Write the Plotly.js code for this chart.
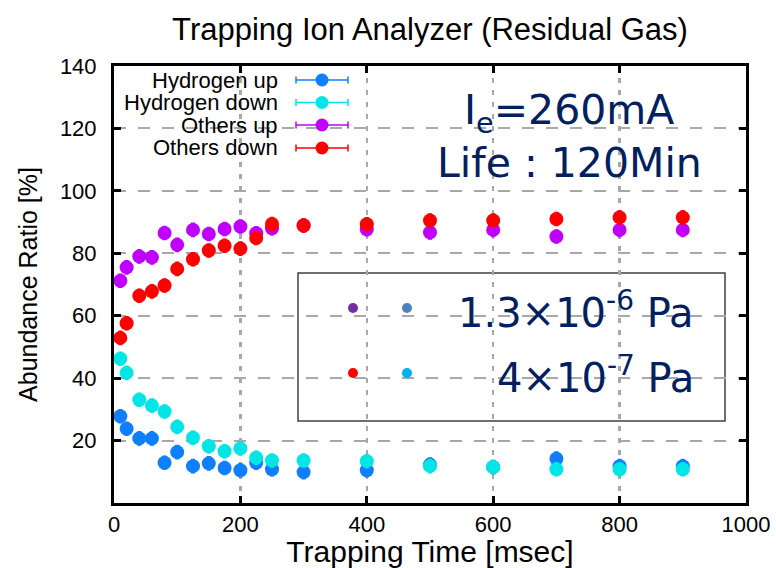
<!DOCTYPE html>
<html>
<head>
<meta charset="utf-8">
<script src="https://cdn.plot.ly/plotly-3.0.1.min.js"></script>
<style>
  html, body { margin: 0; padding: 0; background: #ffffff; }
  #chart { width: 776px; height: 568px; }
</style>
</head>
<body>
<div id="chart"></div>
<script>
// Trapping time [msec]
const timeMs = [10, 20, 40, 60, 80, 100, 125, 150, 175, 200, 225, 250, 300, 400, 500, 600, 700, 800, 900];

// Abundance ratio [%] per ion group and scan direction
const hydrogenUp   = [27.8, 23.8, 20.7, 20.7, 12.9, 16.3, 11.8, 12.7, 11.2, 10.5, 12.9, 10.8, 9.9, 10.5, 12.3, 11.5, 14.2, 11.8, 11.8];
const hydrogenDown = [46.2, 41.7, 33.1, 31.2, 29.3, 24.4, 20.9, 18.2, 16.6, 17.5, 14.5, 13.6, 13.6, 13.4, 11.8, 11.5, 10.8, 10.8, 10.8];
const othersUp     = [71.2, 75.5, 79.0, 78.7, 86.5, 82.7, 87.5, 86.2, 87.8, 88.6, 86.4, 88.0, 88.9, 87.7, 86.7, 87.5, 85.4, 87.5, 87.5];
const othersDown   = [52.9, 57.6, 66.4, 67.8, 69.7, 75.0, 78.1, 80.9, 82.4, 81.5, 84.9, 89.4, 88.9, 89.3, 90.5, 90.5, 91.0, 91.5, 91.5];

const seriesNames  = ['Hydrogen up', 'Hydrogen down', 'Others up', 'Others down'];
const seriesValues = [hydrogenUp, hydrogenDown, othersUp, othersDown];
const seriesColors = ['#0f7fff', '#00e6e6', '#bf00ff', '#ff0000'];

const xTicks = [0, 200, 400, 600, 800, 1000];
const yTicks = [20, 40, 60, 80, 100, 120, 140];

// Pressure key inside the lower box
const pressureLabels = ['1.3×10<sup>-6</sup> Pa', '4×10<sup>-7</sup> Pa'];
const pressureColors = [['#7030a0', '#4f81bd'], ['#ff0000', '#00b0f0']];

// Plot area in pixels
const W = 776, H = 568;
const plotL = 114, plotR = 746, plotT = 66, plotB = 503;
const px = (x) => (x - plotL) / (plotR - plotL);   // pixel -> paper x
const py = (y) => (plotB - y) / (plotB - plotT);   // pixel -> paper y

const traces = seriesValues.map((vals, i) => ({
  type: 'scatter',
  mode: 'markers',
  name: seriesNames[i],
  x: timeMs,
  y: vals,
  marker: { color: seriesColors[i], size: 14 },
  error_y: { type: 'constant', value: 2.1, color: seriesColors[i], thickness: 1.5, width: 2 },
  showlegend: false,
  cliponaxis: false
}));

const shapes = [];
const annotations = [];

// filled dot centred on a pixel position
function dot(cx, cy, r, color) {
  shapes.push({ type: 'circle', xref: 'paper', yref: 'paper', layer: 'above',
    x0: px(cx - r), x1: px(cx + r), y0: py(cy + r), y1: py(cy - r),
    fillcolor: color, line: { width: 0 } });
}

// White panels over the grid: series key, current/life note, pressure box
shapes.push({ type: 'rect', xref: 'paper', yref: 'paper', layer: 'between',
  x0: px(plotL), x1: px(358), y0: py(160), y1: py(plotT),
  fillcolor: '#ffffff', line: { width: 0 } });
shapes.push({ type: 'rect', xref: 'paper', yref: 'paper', layer: 'between',
  x0: px(413), x1: px(733), y0: py(204), y1: py(84),
  fillcolor: '#ffffff', line: { width: 0 } });
shapes.push({ type: 'rect', xref: 'paper', yref: 'paper', layer: 'between',
  x0: px(298), x1: px(725), y0: py(421), y1: py(273),
  fillcolor: '#ffffff', line: { color: '#404040', width: 1.5 } });

// Series key: right-aligned label, then an error-bar sample with a dot
const keyRows = [80, 102.5, 125, 148];
seriesNames.forEach((name, i) => {
  const yy = keyRows[i];
  annotations.push({ xref: 'paper', yref: 'paper', x: px(280), y: py(yy),
    xanchor: 'right', yanchor: 'middle', showarrow: false, text: name,
    font: { family: 'Liberation Sans, Arial, sans-serif', size: 22, color: '#000000' } });
  const c = seriesColors[i];
  shapes.push({ type: 'line', xref: 'paper', yref: 'paper', layer: 'above',
    x0: px(296), x1: px(348), y0: py(yy), y1: py(yy), line: { color: c, width: 1.5 } });
  [296, 348].forEach(cx => shapes.push({ type: 'line', xref: 'paper', yref: 'paper', layer: 'above',
    x0: px(cx), x1: px(cx), y0: py(yy - 3.5), y1: py(yy + 3.5), line: { color: c, width: 1.5 } }));
  dot(322, yy, 6.5, c);
});

// Beam current and lifetime note
annotations.push({ xref: 'paper', yref: 'paper', x: px(569), y: py(113),
  xanchor: 'center', yanchor: 'middle', showarrow: false, text: 'I<sub>e</sub>=260mA',
  font: { family: 'DejaVu Sans, Verdana, sans-serif', size: 41, color: '#002060' } });
annotations.push({ xref: 'paper', yref: 'paper', x: px(569), y: py(163),
  xanchor: 'center', yanchor: 'middle', showarrow: false, text: 'Life : 120Min',
  font: { family: 'DejaVu Sans, Verdana, sans-serif', size: 41, color: '#002060' } });

// Pressure key rows: two coloured dots followed by the pressure value
const pressureRows = [308, 373];
const pressureDotX = [353, 407];
pressureLabels.forEach((label, i) => {
  const yy = pressureRows[i];
  annotations.push({ xref: 'paper', yref: 'paper', x: px(696), y: py(yy + 2),
    xanchor: 'right', yanchor: 'middle', showarrow: false, text: label,
    font: { family: 'DejaVu Sans, Verdana, sans-serif', size: 40, color: '#002060' } });
  dot(pressureDotX[0], yy, 5, pressureColors[i][0]);
  dot(pressureDotX[1], yy, 5, pressureColors[i][1]);
});

const axisFont = { family: 'Liberation Sans, Arial, sans-serif', size: 22, color: '#000000' };

const layout = {
  width: W, height: H,
  margin: { l: plotL, r: W - plotR, t: plotT, b: H - plotB, pad: 0 },
  paper_bgcolor: '#ffffff',
  plot_bgcolor: '#ffffff',
  showlegend: false,
  title: {
    text: 'Trapping Ion Analyzer (Residual Gas)',
    font: { family: 'Liberation Sans, Arial, sans-serif', size: 31, color: '#000000' },
    xref: 'paper', x: 0.5, xanchor: 'center',
    yref: 'container', y: 1 - 29 / H, yanchor: 'middle'
  },
  xaxis: {
    range: [0, 1000],
    tickvals: xTicks,
    ticktext: xTicks.map(String),
    ticks: 'inside', ticklen: 7, tickwidth: 3, tickcolor: '#000000',
    showline: true, linewidth: 3, linecolor: '#000000', mirror: 'ticks',
    showgrid: true, gridcolor: '#a8a8a8', gridwidth: 2.5, griddash: '5px,7px',
    zeroline: false,
    tickfont: axisFont,
    title: { text: 'Trapping Time [msec]', standoff: 8,
      font: { family: 'Liberation Sans, Arial, sans-serif', size: 30, color: '#000000' } }
  },
  yaxis: {
    range: [0, 140],
    tickvals: yTicks,
    ticktext: yTicks.map(String),
    ticks: 'inside', ticklen: 7, tickwidth: 3, tickcolor: '#000000',
    showline: true, linewidth: 3, linecolor: '#000000', mirror: 'ticks',
    showgrid: true, gridcolor: '#a8a8a8', gridwidth: 2, griddash: '12px,12px',
    zeroline: false,
    tickfont: axisFont,
    ticklabelstandoff: 10,
    title: { text: 'Abundance Ratio [%]', standoff: 16,
      font: { family: 'Liberation Sans, Arial, sans-serif', size: 25, color: '#000000' } }
  },
  shapes: shapes,
  annotations: annotations
};

Plotly.newPlot('chart', traces, layout, { staticPlot: true, displayModeBar: false });
</script>
</body>
</html>
